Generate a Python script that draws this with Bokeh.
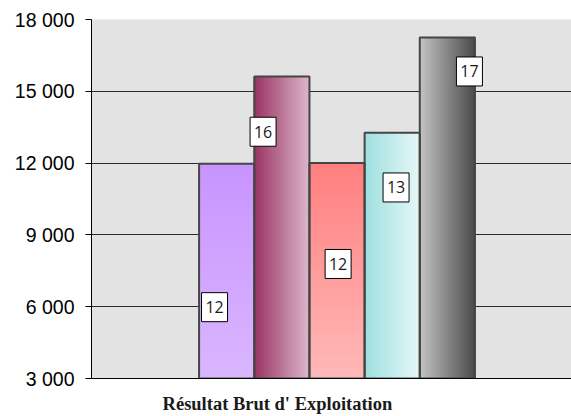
import numpy as np
from bokeh.plotting import figure
from bokeh.models import FixedTicker, Range1d, ColumnDataSource
from bokeh.core.properties import value
from bokeh.embed import file_html
from bokeh.resources import INLINE

# ---- data ----
category = "Résultat Brut d' Exploitation"
series_values = [11970, 15620, 12000, 13270, 17250]
y_ticks = [3000, 6000, 9000, 12000, 15000, 18000]
y_tick_labels = ["3 000", "6 000", "9 000", "12 000", "15 000", "18 000"]

# ---- styles ----
# gradient (start colour, end colour, direction): "v" runs bottom->top, "h" left->right
gradients = [
    ("#DAB6FF", "#C894FF", "v"),
    ("#9A3463", "#DDB8CB", "h"),
    ("#FFB8B8", "#FF7F7F", "v"),
    ("#A0E0E0", "#E6F7F7", "h"),
    ("#C4C4C4", "#4A4A4A", "h"),
]
# value-box placement: (x offset from bar centre, height in axis units)
label_places = [(-0.22, 5980), (-0.34, 13310), (0.02, 7785), (0.07, 10982), (0.40, 15829)]
# horizontal position of the category caption (axis units)
caption_x = 0.92

Y0 = 3000


def ramp(c0, c1, direction, n=96):
    a = np.array([int(c0[i:i + 2], 16) for i in (1, 3, 5)], float)
    b = np.array([int(c1[i:i + 2], 16) for i in (1, 3, 5)], float)
    t = np.linspace(0.0, 1.0, n)[:, None]
    rgb = np.round(a + (b - a) * t).astype(np.uint8)
    img = np.empty((n,), dtype=np.uint32)
    view = img.view(dtype=np.uint8).reshape((n, 4))
    view[:, :3] = rgb
    view[:, 3] = 255
    return img.reshape((n, 1)) if direction == "v" else img.reshape((1, n))


p = figure(
    width=571, height=416,
    x_range=Range1d(-2.45, 6.25), y_range=Range1d(3000, 18000),
    output_backend="svg", toolbar_location=None,
    min_border_left=91, min_border_right=0, min_border_top=19, min_border_bottom=38,
)
p.background_fill_color = "#E3E3E3"
p.border_fill_color = "white"
p.outline_line_color = None

# gridlines
p.xgrid.visible = False
p.ygrid.ticker = FixedTicker(ticks=y_ticks)
p.ygrid.grid_line_color = "#2A2A2A"
p.ygrid.grid_line_width = 1

# y axis
p.yaxis.ticker = FixedTicker(ticks=y_ticks)
p.yaxis.major_label_overrides = {t: s for t, s in zip(y_ticks, y_tick_labels)}
p.yaxis.axis_line_color = "black"
p.yaxis.major_tick_line_color = "black"
p.yaxis.major_tick_out = 6
p.yaxis.major_tick_in = 0
p.yaxis.minor_tick_line_color = None
p.yaxis.major_label_standoff = 11
p.yaxis.major_label_text_font = "Liberation Sans"
p.yaxis.major_label_text_font_size = "19.5px"
p.yaxis.major_label_text_color = "black"

# x axis: baseline with the category caption as its only label
p.xaxis.ticker = FixedTicker(ticks=[caption_x])
p.xaxis.major_label_overrides = {caption_x: category}
p.xaxis.axis_line_color = "black"
p.xaxis.major_tick_line_color = None
p.xaxis.major_tick_out = 0
p.xaxis.major_tick_in = 0
p.xaxis.minor_tick_line_color = None
p.xaxis.major_label_standoff = 15
p.xaxis.major_label_text_font = "Liberation Serif"
p.xaxis.major_label_text_font_style = "bold"
p.xaxis.major_label_text_font_size = "18.5px"
p.xaxis.major_label_text_color = "#1A1A1A"

# bars: gradient fill as images, then outlines
xs = list(range(len(series_values)))
for i, (v, (c0, c1, d)) in enumerate(zip(series_values, gradients)):
    p.image_rgba(image=[ramp(c0, c1, d)], x=i - 0.5, y=Y0, dw=1.0, dh=v - Y0)

p.vbar(x=xs, top=series_values, bottom=Y0, width=1.0,
       fill_alpha=0, line_color="#454545", line_width=2)

# value boxes
lab_src = ColumnDataSource(dict(
    x=[i + dx for i, (dx, _) in enumerate(label_places)],
    y=[yy for _, yy in label_places],
    text=[str(int(round(v / 1000.0))) for v in series_values],
))
p.rect(x="x", y="y", width=26, height=29, width_units="screen", height_units="screen",
       source=lab_src, fill_color="white", line_color="black", line_width=1)
p.text(x="x", y="y", text="text", source=lab_src, text_align="center",
       text_baseline="middle", text_font=value("Open Sans"),
       text_font_size="16px", text_color="#1A1A1A")

open("out.html", "w").write(file_html(p, INLINE))
